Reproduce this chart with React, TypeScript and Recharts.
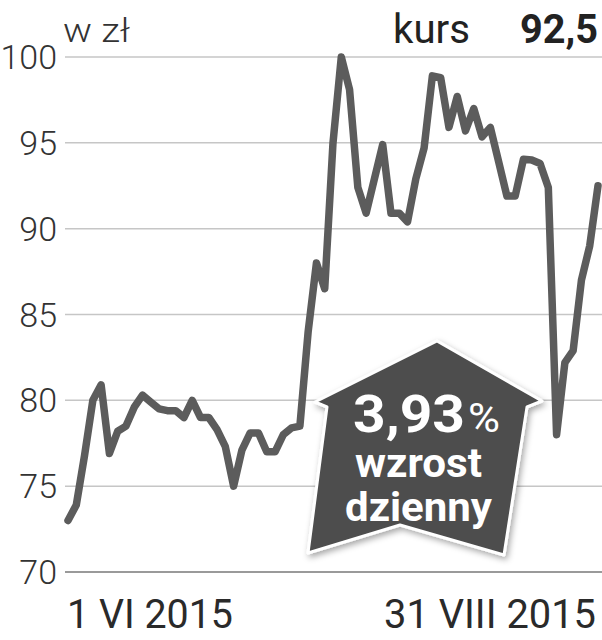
import React from "react";
import { LineChart, Line, XAxis, YAxis, CartesianGrid, ReferenceLine } from "recharts";

// Daily closing price, 1 VI 2015 – 31 VIII 2015 (zł)
const prices: number[] = [
  73.0, 73.9, 76.8, 80.0, 80.9, 76.9, 78.2, 78.5, 79.6, 80.3,
  79.9, 79.5, 79.4, 79.4, 79.0, 80.0, 79.0, 79.0, 78.3, 77.3,
  75.0, 77.1, 78.1, 78.1, 77.0, 77.0, 78.0, 78.4, 78.5, 84.0,
  88.0, 86.5, 95.0, 100.0, 98.1, 92.4, 90.9, 92.9, 94.9, 90.9,
  90.9, 90.4, 92.9, 94.7, 98.9, 98.8, 95.9, 97.7, 95.7, 97.0,
  95.35, 95.9, 93.9, 91.9, 91.9, 94.05, 94.0, 93.8, 92.4, 78.0,
  82.2, 82.9, 87.0, 89.0, 92.5,
];
const xTickLabels: string[] = ["1 VI 2015", "31 VIII 2015"];
const yTicks: number[] = [70, 75, 80, 85, 90, 95, 100];
const unitLabel = "w zł";
const rateLabel = "kurs";
const rateValue = "92,5";
const changeValue = "3,93";
const changeLine1 = "wzrost";
const changeLine2 = "dzienny";

const data = prices.map((v, i) => ({ i, v }));
const lastIndex = prices.length - 1;

const FONT = "Roboto, 'DejaVu Sans', sans-serif";

const XTick = (props: any) => {
  const { x, y, payload } = props;
  const first = payload.value === 0;
  return (
    <text
      x={first ? x - 1 : x + 2}
      y={y + 48}
      textAnchor={first ? "start" : "end"}
      fontFamily={FONT}
      fontSize={40}
      fill="#2a2a2a"
      textLength={first ? 166 : 212}
      lengthAdjust="spacingAndGlyphs"
    >
      {first ? xTickLabels[0] : xTickLabels[1]}
    </text>
  );
};

export default function App() {
  return (
    <div style={{ position: "absolute", left: 0, top: 0, width: 602, height: 640, background: "#fff" }}>
      <LineChart width={602} height={640} data={data} margin={{ top: 57, right: 0, bottom: 0, left: 0 }}>
        <CartesianGrid vertical={false} stroke="#c6c6c6" strokeWidth={1.5} />
        <XAxis
          dataKey="i"
          type="number"
          domain={[0, lastIndex]}
          ticks={[0, lastIndex]}
          padding={{ left: 3, right: 4 }}
          axisLine={false}
          tickLine={false}
          height={68}
          tick={<XTick />}
        />
        <YAxis
          domain={[70, 100]}
          ticks={yTicks}
          width={65}
          axisLine={false}
          tickLine={false}
          tickSize={0}
          tickMargin={8}
          tick={{ fontFamily: FONT, fontSize: 34, fontWeight: 300, fill: "#333" }}
        />
        <ReferenceLine y={70} stroke="#9a9a9a" strokeWidth={2} />
        <Line
          type="linear"
          dataKey="v"
          stroke="#5c5c5c"
          strokeWidth={7.5}
          dot={false}
          strokeLinejoin="round"
          strokeLinecap="round"
          isAnimationActive={false}
        />
      </LineChart>
      <svg
        width={602}
        height={640}
        style={{ position: "absolute", left: 0, top: 0, pointerEvents: "none" }}
      >
        <defs>
          <filter id="sh" x="-20%" y="-20%" width="140%" height="140%">
            <feDropShadow dx="2" dy="3" stdDeviation="3" floodColor="#000" floodOpacity="0.35" />
          </filter>
        </defs>
        <text x={63} y={42} fontFamily={FONT} fontSize={34} fontWeight={300} fill="#333"
          textLength={67} lengthAdjust="spacingAndGlyphs">
          {unitLabel}
        </text>
        <text x={393} y={43} fontFamily={FONT} fontSize={40} fill="#222"
          textLength={77} lengthAdjust="spacingAndGlyphs">
          {rateLabel}
        </text>
        <text x={520} y={43} fontFamily={FONT} fontSize={41} fontWeight={700} fill="#222"
          textLength={78} lengthAdjust="spacingAndGlyphs">
          {rateValue}
        </text>
        <polygon
          points="437,341 542,401 527,407 504,555 400,525 308,553 327,407 315,402"
          fill="#4d4d4d"
          stroke="#fff"
          strokeWidth={3}
          strokeLinejoin="round"
          filter="url(#sh)"
        />
        <text x={353} y={432} fontFamily={FONT} fontSize={52} fontWeight={700} fill="#fff"
          textLength={112} lengthAdjust="spacingAndGlyphs">
          {changeValue}
        </text>
        <text x={468} y={432} fontFamily={FONT} fontSize={40} fontWeight={400} fill="#fff"
          textLength={32} lengthAdjust="spacingAndGlyphs">
          %
        </text>
        <text x={355} y={477} fontFamily={FONT} fontSize={40} fontWeight={700} fill="#fff"
          textLength={127} lengthAdjust="spacingAndGlyphs">
          {changeLine1}
        </text>
        <text x={345} y={521} fontFamily={FONT} fontSize={40} fontWeight={700} fill="#fff"
          textLength={147} lengthAdjust="spacingAndGlyphs">
          {changeLine2}
        </text>
      </svg>
    </div>
  );
}
